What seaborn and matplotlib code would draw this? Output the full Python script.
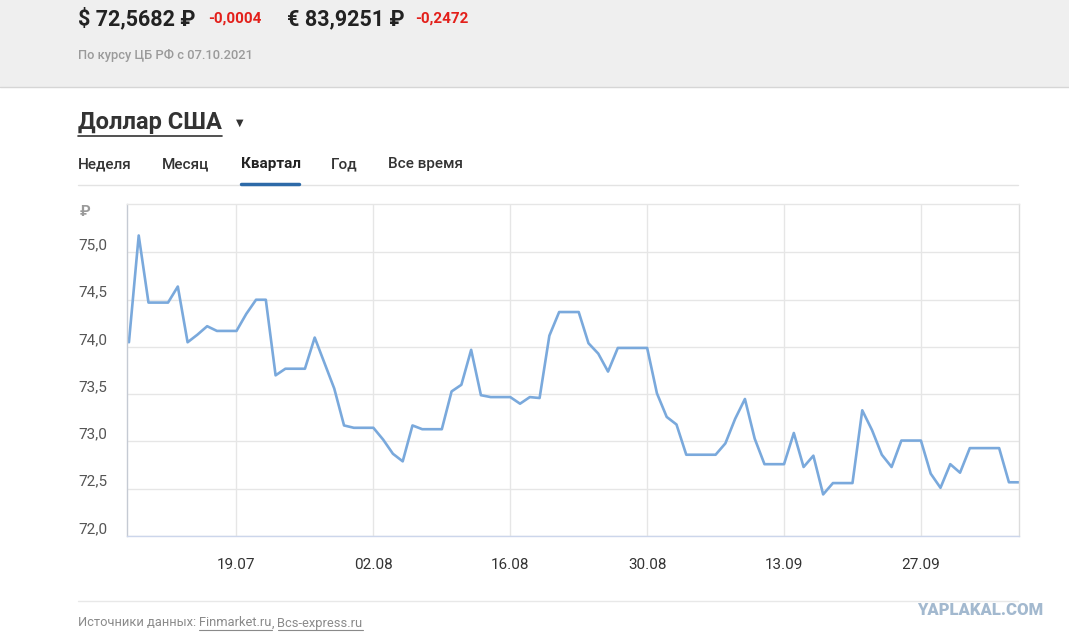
import matplotlib
matplotlib.use("Agg")
import matplotlib.pyplot as plt
import matplotlib.dates as mdates
from matplotlib.lines import Line2D
from matplotlib.patches import Rectangle
import pandas as pd
import seaborn as sns

# Курс доллара ЦБ РФ по дням, 08.07.2021 - 07.10.2021
start_date = "2021-07-08"
end_date = "2021-10-07"
usd_rate = [
    74.05, 75.18, 74.47, 74.47, 74.47, 74.64, 74.05, 74.13, 74.22, 74.17,
    74.17, 74.17, 74.35, 74.50, 74.50, 73.70, 73.77, 73.77, 73.77, 74.10,
    73.83, 73.56, 73.17, 73.145, 73.145, 73.145, 73.02, 72.87, 72.79, 73.17,
    73.13, 73.13, 73.13, 73.53, 73.60, 73.97, 73.49, 73.47, 73.47, 73.47,
    73.40, 73.47, 73.46, 74.12, 74.37, 74.37, 74.37, 74.04, 73.93, 73.74,
    73.99, 73.99, 73.99, 73.99, 73.51, 73.26, 73.18, 72.86, 72.86, 72.86,
    72.86, 72.98, 73.24, 73.45, 73.03, 72.76, 72.76, 72.76, 73.09, 72.73,
    72.85, 72.44, 72.56, 72.56, 72.56, 73.33, 73.12, 72.86, 72.73, 73.01,
    73.01, 73.01, 72.66, 72.51, 72.76, 72.67, 72.93, 72.93, 72.93, 72.93,
    72.5686, 72.5682,
]
x_ticks = ["2021-07-19", "2021-08-02", "2021-08-16", "2021-08-30", "2021-09-13", "2021-09-27"]
y_ticks = [72.0, 72.5, 73.0, 73.5, 74.0, 74.5, 75.0]

# шапка
usd_now, usd_diff = "72,5682", "-0,0004"
eur_now, eur_diff = "83,9251", "-0,2472"
tabs = ["Неделя", "Месяц", "Квартал", "Год", "Все время"]
tab_x = [78, 162, 241, 331, 388]

sns.set_style("white")
plt.rcParams["font.family"] = ["Roboto", "DejaVu Sans"]

W, H = 1069, 641
fig = plt.figure(figsize=(W / 100, H / 100), dpi=100)
fx = lambda x: x / W
fy = lambda y: 1 - y / H


def hline(x0, x1, y, color, lw=1.0):
    fig.add_artist(Line2D([fx(x0), fx(x1)], [fy(y), fy(y)], color=color, lw=lw,
                          transform=fig.transFigure))


# серый блок сверху
fig.add_artist(Rectangle((0, fy(86)), 1, 86 / H, transform=fig.transFigure,
                         color="#efefef", zorder=0))
hline(0, W, 86.5, "#d6d6d6")

fig.text(fx(78), fy(19), f"$ {usd_now} ₽", fontsize=15.5, fontweight="bold",
         color="#222222", va="center")
fig.text(fx(208), fy(19), usd_diff, fontsize=11, fontweight="bold",
         color="#e3201b", va="center")
fig.text(fx(287), fy(19), f"€ {eur_now} ₽", fontsize=15.5, fontweight="bold",
         color="#222222", va="center")
fig.text(fx(415), fy(19), eur_diff, fontsize=11, fontweight="bold",
         color="#e3201b", va="center")
fig.text(fx(78), fy(55), "По курсу ЦБ РФ с 07.10.2021", fontsize=9.3,
         fontweight="medium", color="#9a9a9a", va="center")

renderer = fig.canvas.get_renderer()

title = fig.text(fx(78), fy(123), "Доллар США", fontsize=17, fontweight="bold",
                 color="#333333", va="center")
tb = title.get_window_extent(renderer)
hline(78, tb.x1, 136, "#333333", 1.2)
fig.text(fx(236), fy(123), "▼", fontsize=7, color="#333333", va="center",
         family="DejaVu Sans")

for name, x in zip(tabs, tab_x):
    fig.text(fx(x), fy(164), name, fontsize=11,
             fontweight="bold" if name == "Квартал" else "medium",
             color="#222222" if name == "Квартал" else "#333333", va="center")
hline(78, 1018, 184.5, "#e3e3e3")
hline(241, 299, 184, "#2d6aa8", 2.5)

# график
ax = fig.add_axes([fx(127.3), fy(536), (1018.7 - 127.3) / W, (536 - 204.3) / H])
dates = pd.date_range(start_date, end_date, freq="D")
sns.lineplot(x=dates, y=usd_rate, ax=ax, color="#7aa9dc", linewidth=1.9)

ax.set_xlim(pd.Timestamp(start_date) - pd.Timedelta(hours=4), pd.Timestamp(end_date))
ax.set_ylim(72.0, 75.51)
ax.set_xticks(pd.to_datetime(x_ticks))
ax.xaxis.set_major_formatter(mdates.DateFormatter("%d.%m"))
ax.set_yticks(y_ticks)
ax.set_yticklabels([f"{v:.1f}".replace(".", ",") for v in y_ticks])
ax.set_xlabel("")
ax.set_ylabel("")
ax.grid(True, color="#e6e6e6", lw=1)
ax.tick_params(axis="x", length=6.5, width=1, color="#ccd6eb", direction="out",
               pad=9, labelsize=11, labelcolor="#333333")
ax.tick_params(axis="y", length=0, pad=35.5, labelsize=11, labelcolor="#555555")
for lab in ax.get_yticklabels():
    lab.set_ha("left")
    lab.set_va("bottom")
for side, col in [("left", "#c5cad3"), ("bottom", "#ccd6eb"),
                  ("top", "#e6e6e6"), ("right", "#dcdcdc")]:
    ax.spines[side].set_visible(True)
    ax.spines[side].set_color(col)
    ax.spines[side].set_linewidth(1)

fig.text(fx(80), fy(212), "₽", fontsize=11, fontweight="bold", color="#9a9a9a",
         va="center")

# подвал
hline(78, 1018, 601, "#e8e8e8")
x = 78
for part, link in [("Источники данных: ", False), ("Finmarket.ru", True),
                   (", ", False), ("Bcs-express.ru", True)]:
    t = fig.text(fx(x), fy(623), part, fontsize=9.3, color="#8a8a8a", va="center")
    bb = t.get_window_extent(renderer)
    if link:
        hline(bb.x0, bb.x1, 630, "#8a8a8a", 0.8)
    x = bb.x1

fig.text(fx(1043), fy(610), "YAPLAKAL.COM", fontsize=12, fontweight="heavy",
         color="#a3b9cf", ha="right", va="center")

fig.savefig("out.png", dpi=100)
